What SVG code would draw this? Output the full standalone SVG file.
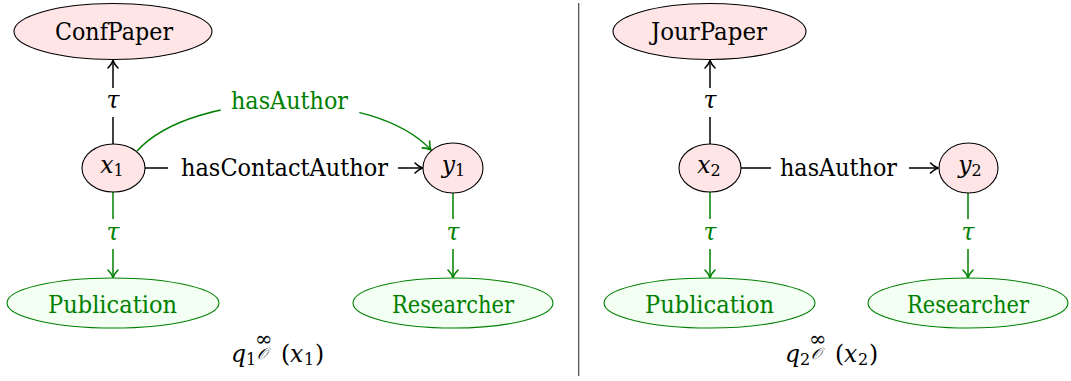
<svg xmlns="http://www.w3.org/2000/svg" width="1071" height="381" viewBox="0 0 1071 381">
<style>
.t{font-family:'DejaVu Serif','Liberation Serif',serif;font-size:23.5px}
.k{fill:#000}.g{fill:#008000}
.i{font-style:italic}
.nr{fill:#ffe5e5;stroke:#000;stroke-width:1.1}
.ng{fill:#f2fff2;stroke:#008000;stroke-width:1.1}
.ek{stroke:#000;stroke-width:1.5;fill:none}
.eg{stroke:#008000;stroke-width:1.5;fill:none}
.sep{stroke:#444;stroke-width:1.2}
</style>
<defs>
<marker id="ak" markerUnits="userSpaceOnUse" viewBox="-10 -7 12 14" markerWidth="12" markerHeight="14" refX="0" refY="0" orient="auto" overflow="visible">
<path d="M-7.5,-5 C-4.8,-2.2 -1.6,-0.6 0,0 C-1.6,0.6 -4.8,2.2 -7.5,5" fill="none" stroke="#000" stroke-width="1.6" stroke-linecap="round"/>
</marker>
<marker id="ag" markerUnits="userSpaceOnUse" viewBox="-10 -7 12 14" markerWidth="12" markerHeight="14" refX="0" refY="0" orient="auto" overflow="visible">
<path d="M-7.5,-5 C-4.8,-2.2 -1.6,-0.6 0,0 C-1.6,0.6 -4.8,2.2 -7.5,5" fill="none" stroke="#008000" stroke-width="1.6" stroke-linecap="round"/>
</marker>
</defs>

<g id="connectors">
<path class="ek" d="M113,144 V117"/>
<path class="ek" d="M113,88 V60.5" marker-end="url(#ak)"/>
<text class="t k i" x="113" y="108" text-anchor="middle">τ</text>
<path class="ek" d="M145,168 H168"/>
<path class="ek" d="M398,168 H422.5" marker-end="url(#ak)"/>
<text class="t k" x="284.5" y="176" text-anchor="middle" textLength="207" lengthAdjust="spacingAndGlyphs">hasContactAuthor</text>
<path class="eg" d="M137,151 C195,88 374,88 431,150" marker-end="url(#ag)"/>
<rect x="220.7" y="84" width="138.6" height="34" fill="#fff"/>
<text class="t g" x="289.5" y="109" text-anchor="middle" textLength="117" lengthAdjust="spacingAndGlyphs">hasAuthor</text>
<path class="eg" d="M113,192 V219"/>
<path class="eg" d="M113,249 V277.5" marker-end="url(#ag)"/>
<text class="t g i" x="113" y="240" text-anchor="middle">τ</text>
<path class="eg" d="M453,193 V219"/>
<path class="eg" d="M453,249 V277.5" marker-end="url(#ag)"/>
<text class="t g i" x="453" y="240" text-anchor="middle">τ</text>
<path class="ek" d="M710,144 V117"/>
<path class="ek" d="M710,88 V60.5" marker-end="url(#ak)"/>
<text class="t k i" x="710" y="108" text-anchor="middle">τ</text>
<path class="ek" d="M741,168 H771"/>
<path class="ek" d="M909,168 H938" marker-end="url(#ak)"/>
<text class="t k" x="838.5" y="176" text-anchor="middle" textLength="117" lengthAdjust="spacingAndGlyphs">hasAuthor</text>
<path class="eg" d="M710,192 V219"/>
<path class="eg" d="M710,249 V277.5" marker-end="url(#ag)"/>
<text class="t g i" x="710" y="240" text-anchor="middle">τ</text>
<path class="eg" d="M968,193 V219"/>
<path class="eg" d="M968,249 V277.5" marker-end="url(#ag)"/>
<text class="t g i" x="968" y="240" text-anchor="middle">τ</text>
</g>

<line class="sep" x1="578.7" y1="3" x2="578.7" y2="376"/>

<g id="confpaper">
<ellipse class="nr" cx="113" cy="31.5" rx="99" ry="28"/>
<text class="t k" x="114" y="39.5" text-anchor="middle" textLength="118" lengthAdjust="spacingAndGlyphs">ConfPaper</text>
</g>
<g id="x1">
<ellipse class="nr" cx="113.5" cy="168" rx="31.5" ry="24"/>
<text class="t k" x="112" y="173" text-anchor="middle"><tspan class="i">x</tspan><tspan font-size="16" dy="3">1</tspan></text>
</g>
<g id="y1">
<ellipse class="nr" cx="453" cy="168" rx="30" ry="25"/>
<text class="t k" x="453.5" y="173" text-anchor="middle"><tspan class="i">y</tspan><tspan font-size="16" dy="3">1</tspan></text>
</g>
<g id="publication1">
<ellipse class="ng" cx="113" cy="303" rx="106" ry="25"/>
<text class="t g" x="112.5" y="312.5" text-anchor="middle" textLength="129" lengthAdjust="spacingAndGlyphs">Publication</text>
</g>
<g id="researcher1">
<ellipse class="ng" cx="453" cy="303" rx="100" ry="25"/>
<text class="t g" x="453" y="312.5" text-anchor="middle" textLength="122" lengthAdjust="spacingAndGlyphs">Researcher</text>
</g>
<g id="q1label">
<text class="t k" y="362" font-size="25"><tspan x="231" class="i">q</tspan><tspan x="246" y="365" font-size="16">1</tspan><tspan x="255" y="346" font-size="21">∞</tspan><tspan x="257" y="359" font-size="16" class="i">𝒪</tspan><tspan x="281" y="362">(</tspan><tspan x="290" class="i">x</tspan><tspan x="304" y="365" font-size="16">1</tspan><tspan x="315" y="362">)</tspan></text>
</g>

<g id="jourpaper">
<ellipse class="nr" cx="709.5" cy="31.5" rx="96.5" ry="28"/>
<text class="t k" x="709" y="39.5" text-anchor="middle" textLength="116" lengthAdjust="spacingAndGlyphs">JourPaper</text>
</g>
<g id="x2">
<ellipse class="nr" cx="710" cy="168" rx="31" ry="24"/>
<text class="t k" x="709" y="173" text-anchor="middle"><tspan class="i">x</tspan><tspan font-size="16" dy="3">2</tspan></text>
</g>
<g id="y2">
<ellipse class="nr" cx="968.5" cy="168" rx="29.5" ry="25"/>
<text class="t k" x="970" y="173" text-anchor="middle"><tspan class="i">y</tspan><tspan font-size="16" dy="3">2</tspan></text>
</g>
<g id="publication2">
<ellipse class="ng" cx="709.5" cy="303" rx="105.5" ry="25"/>
<text class="t g" x="709.5" y="312.5" text-anchor="middle" textLength="129" lengthAdjust="spacingAndGlyphs">Publication</text>
</g>
<g id="researcher2">
<ellipse class="ng" cx="968" cy="303" rx="100" ry="25"/>
<text class="t g" x="968" y="312.5" text-anchor="middle" textLength="122" lengthAdjust="spacingAndGlyphs">Researcher</text>
</g>
<g id="q2label">
<text class="t k" y="362" font-size="25"><tspan x="785" class="i">q</tspan><tspan x="800" y="365" font-size="16">2</tspan><tspan x="809" y="346" font-size="21">∞</tspan><tspan x="811" y="359" font-size="16" class="i">𝒪</tspan><tspan x="835" y="362">(</tspan><tspan x="844" class="i">x</tspan><tspan x="858" y="365" font-size="16">2</tspan><tspan x="869" y="362">)</tspan></text>
</g>
</svg>
